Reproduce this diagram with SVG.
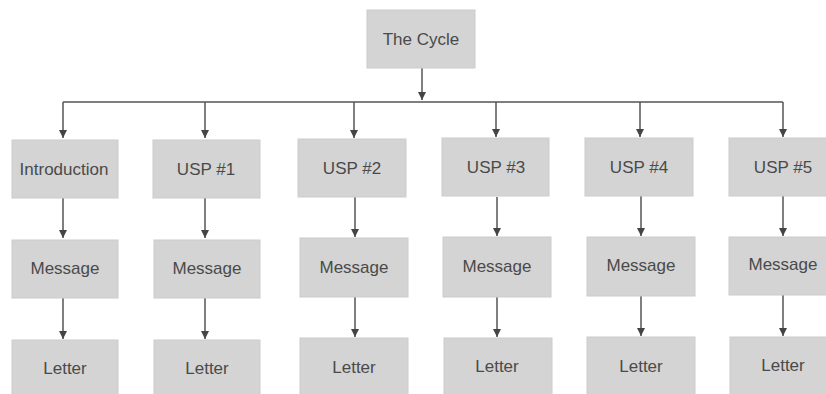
<svg xmlns="http://www.w3.org/2000/svg" width="826" height="394" viewBox="0 0 826 394">
<style>
.box{fill:#d4d4d4;stroke:#cccccc;stroke-width:1}
.lbl{font-family:"Liberation Sans",Arial,sans-serif;font-size:17px;fill:#4a4a4a;text-anchor:middle}
.ln{stroke:#555;stroke-width:1.5;fill:none}
.ar{stroke:#555;stroke-width:1.5;fill:none;marker-end:url(#ah)}
</style>
<defs>
<marker id="ah" markerUnits="userSpaceOnUse" markerWidth="9" markerHeight="9" refX="8" refY="4" orient="auto">
<path d="M0,0 L8,4 L0,8 z" fill="#444"/>
</marker>
</defs>
<rect width="826" height="394" fill="#ffffff"/>
<g id="connectors">
<line class="ar" x1="422" y1="68" x2="422" y2="100"/>
<line class="ln" x1="63" y1="102" x2="783" y2="102"/>
<line class="ar" x1="63" y1="102" x2="63" y2="138"/>
<line class="ar" x1="205" y1="102" x2="205" y2="138"/>
<line class="ar" x1="354" y1="102" x2="354" y2="138"/>
<line class="ar" x1="496" y1="102" x2="496" y2="137"/>
<line class="ar" x1="640" y1="102" x2="640" y2="137"/>
<line class="ar" x1="783" y1="102" x2="783" y2="137"/>
<line class="ar" x1="63" y1="198" x2="63" y2="238"/>
<line class="ar" x1="205" y1="198" x2="205" y2="238"/>
<line class="ar" x1="355" y1="197" x2="355" y2="237"/>
<line class="ar" x1="497" y1="197" x2="497" y2="236"/>
<line class="ar" x1="641" y1="196" x2="641" y2="236"/>
<line class="ar" x1="783" y1="196" x2="783" y2="236"/>
<line class="ar" x1="63" y1="298" x2="63" y2="339"/>
<line class="ar" x1="205" y1="298" x2="205" y2="339"/>
<line class="ar" x1="355" y1="297" x2="355" y2="337"/>
<line class="ar" x1="497" y1="297" x2="497" y2="337"/>
<line class="ar" x1="641" y1="296" x2="641" y2="336"/>
<line class="ar" x1="783" y1="295" x2="783" y2="336"/>
</g>
<g id="cycle"><rect class="box" x="367" y="10" width="108" height="58"/><text class="lbl" x="421" y="45">The Cycle</text></g>
<g id="intro"><rect class="box" x="12" y="140" width="106" height="58"/><text class="lbl" x="64" y="175">Introduction</text></g>
<g id="usp1"><rect class="box" x="153" y="140" width="107" height="58"/><text class="lbl" x="206" y="175">USP #1</text></g>
<g id="usp2"><rect class="box" x="298" y="139" width="108" height="58"/><text class="lbl" x="352" y="174">USP #2</text></g>
<g id="usp3"><rect class="box" x="442" y="138" width="107" height="58"/><text class="lbl" x="496" y="173">USP #3</text></g>
<g id="usp4"><rect class="box" x="585" y="138" width="108" height="58"/><text class="lbl" x="639" y="173">USP #4</text></g>
<g id="usp5"><rect class="box" x="729" y="138" width="108" height="58"/><text class="lbl" x="783" y="173">USP #5</text></g>
<g id="msg0"><rect class="box" x="12" y="240" width="106" height="58"/><text class="lbl" x="65" y="274">Message</text></g>
<g id="msg1"><rect class="box" x="154" y="240" width="106" height="58"/><text class="lbl" x="207" y="274">Message</text></g>
<g id="msg2"><rect class="box" x="300" y="238" width="108" height="59"/><text class="lbl" x="354" y="273">Message</text></g>
<g id="msg3"><rect class="box" x="443" y="237" width="108" height="60"/><text class="lbl" x="497" y="272">Message</text></g>
<g id="msg4"><rect class="box" x="587" y="237" width="108" height="59"/><text class="lbl" x="641" y="271">Message</text></g>
<g id="msg5"><rect class="box" x="729" y="237" width="108" height="58"/><text class="lbl" x="783" y="270">Message</text></g>
<g id="let0"><rect class="box" x="12" y="340" width="106" height="60"/><text class="lbl" x="65" y="374">Letter</text></g>
<g id="let1"><rect class="box" x="154" y="340" width="106" height="60"/><text class="lbl" x="207" y="374">Letter</text></g>
<g id="let2"><rect class="box" x="300" y="338" width="108" height="60"/><text class="lbl" x="354" y="373">Letter</text></g>
<g id="let3"><rect class="box" x="444" y="338" width="108" height="60"/><text class="lbl" x="497" y="372">Letter</text></g>
<g id="let4"><rect class="box" x="587" y="337" width="108" height="60"/><text class="lbl" x="641" y="372">Letter</text></g>
<g id="let5"><rect class="box" x="730" y="337" width="108" height="60"/><text class="lbl" x="783" y="371">Letter</text></g>
</svg>
